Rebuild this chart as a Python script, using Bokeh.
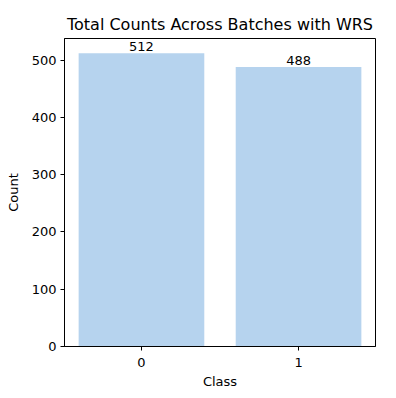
from bokeh.plotting import figure
from bokeh.models import Range1d, FixedTicker
from bokeh.core.properties import value
from bokeh.embed import file_html
from bokeh.resources import INLINE

classes = [0, 1]
counts = [512, 488]
count_labels = ["512", "488"]
y_ticks = [0, 100, 200, 300, 400, 500]

FONT = "DejaVu Sans"

p = figure(
    output_backend="svg", toolbar_location=None,
    frame_width=311, frame_height=308,
    min_border_left=64, min_border_right=5, min_border_top=38, min_border_bottom=36,
    x_range=Range1d(-0.49, 1.49), y_range=Range1d(0, 537.6),
    title="Total Counts Across Batches with WRS",
)
p.vbar(x=classes, top=counts, width=0.8, color="#b6d3ee", line_color=None)
p.text(x=classes, y=counts, text=count_labels, text_align="center", text_baseline="bottom",
       text_font=value(FONT), text_font_size="13px", text_color="#000000", y_offset=-2)

p.title.align = "center"
p.title.text_font = FONT
p.title.text_font_size = "16px"
p.title.text_font_style = "normal"
p.title.text_color = "#000000"

p.xgrid.visible = False
p.ygrid.visible = False
p.outline_line_color = "#000000"
p.outline_line_alpha = 1.0
p.outline_line_width = 1

p.xaxis.ticker = FixedTicker(ticks=classes)
p.yaxis.ticker = FixedTicker(ticks=y_ticks)
p.xaxis.axis_label = "Class"
p.yaxis.axis_label = "Count"
for ax in (p.xaxis, p.yaxis):
    ax.axis_line_color = "#000000"
    ax.major_tick_line_color = "#000000"
    ax.major_tick_out = 4
    ax.major_tick_in = 0
    ax.minor_tick_line_color = None
    ax.major_label_text_font = FONT
    ax.major_label_text_font_size = "13px"
    ax.major_label_text_color = "#000000"
    ax.axis_label_text_font = FONT
    ax.axis_label_text_font_size = "13px"
    ax.axis_label_text_font_style = "normal"
    ax.axis_label_text_color = "#000000"
p.xaxis.major_label_standoff = 7
p.xaxis.axis_label_standoff = 4
p.yaxis.major_label_standoff = 4
p.yaxis.axis_label_standoff = 8

open("out.html", "w").write(file_html(p, INLINE))
